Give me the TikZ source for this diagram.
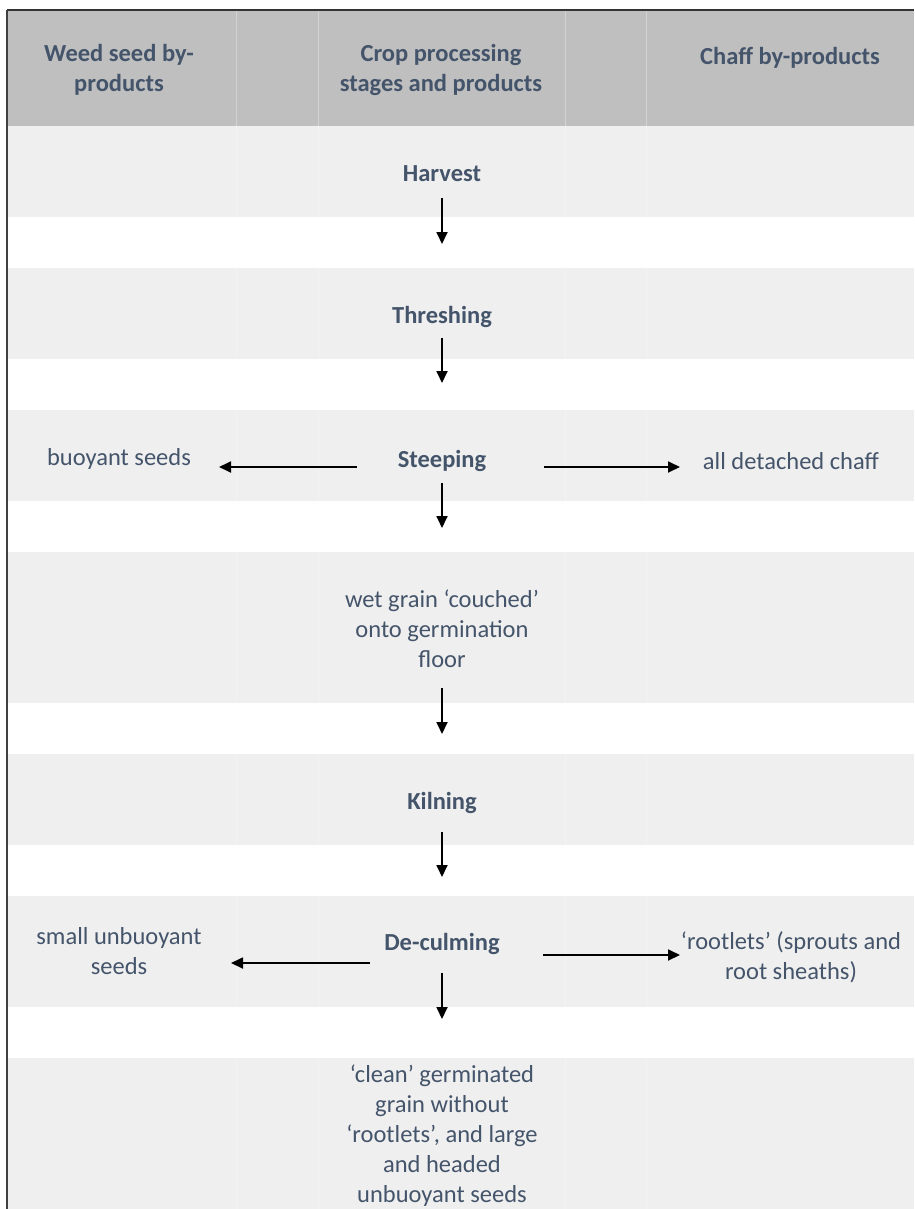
\documentclass[tikz,border=0pt]{standalone}
\usepackage{fontspec}
\setmainfont{Carlito}
\usetikzlibrary{arrows.meta}
\definecolor{textslate}{HTML}{44546A}
\definecolor{headgrey}{HTML}{BFBFBF}
\definecolor{bandgrey}{HTML}{EFEFEF}

\begin{document}
\begin{tikzpicture}[x=1pt,y=-1pt,
  lbl/.style={text=textslate, font=\fontsize{24.5}{30}\selectfont, inner sep=0pt, align=center},
  stage/.style={lbl, font=\fontsize{24.5}{30}\selectfont\bfseries},
  flow/.style={-{Triangle[length=12pt,width=11pt]}, line width=1.8pt}]
\useasboundingbox (0,0) rectangle (914,1209);
% table background
\fill[headgrey] (7,10) rectangle (914,126);
\foreach \top/\bot in {126/217,268/359,410/501,552/703,754/845,896/1007,1058/1209}
  \fill[bandgrey] (7,\top) rectangle (914,\bot);
\foreach \xx in {236,318,565,646}
  \draw[white, opacity=0.3, line width=1pt] (\xx,10) -- (\xx,1209);
\draw[line width=1.5pt, black!80] (7,10) -- (914,10);
\draw[line width=2pt, black!75] (7,10) -- (7,1209);
% headers
\node[stage] (hweed) at (119,70) {Weed seed by-\\products};
\node[stage] (hcrop) at (441,70) {Crop processing\\stages and products};
\node[stage, anchor=base] (hchaff) at (790,65) {Chaff by-products};
% stages
\node[stage, anchor=base] (harvest) at (442,182) {Harvest};
\node[stage, anchor=base] (threshing) at (442,323) {Threshing};
\node[stage, anchor=base] (steeping) at (442,467) {Steeping};
\node[lbl] (wetgrain) at (442,629) {wet grain ‘couched’\\onto germination\\floor};
\node[stage, anchor=base] (kilning) at (442,809) {Kilning};
\node[stage, anchor=base] (deculming) at (442,950) {De-culming};
\node[lbl] (cleangrain) at (442,1136) {‘clean’ germinated\\grain without\\‘rootlets’, and large\\and headed\\unbuoyant seeds};
% by-products
\node[lbl, anchor=base] (buoyant) at (119,465) {buoyant seeds};
\node[lbl, anchor=base] (chaff) at (791,469) {all detached chaff};
\node[lbl] (smallseeds) at (119,951) {small unbuoyant\\seeds};
\node[lbl] (rootlets) at (791,957) {‘rootlets’ (sprouts and\\root sheaths)};
% arrows
\draw[flow, shorten <=16pt, shorten >=79pt] (harvest.base) -- (threshing.base);
\draw[flow, shorten <=15pt, shorten >=84pt] (threshing.base) -- (steeping.base);
\draw[flow, shorten <=16pt, shorten >=101pt] (steeping.base) -- (wetgrain.center);
\draw[flow, shorten <=59pt, shorten >=75pt] (wetgrain.center) -- (kilning.base);
\draw[flow, shorten <=23pt, shorten >=73pt] (kilning.base) -- (deculming.base);
\draw[flow, shorten <=23pt, shorten >=117pt] (deculming.base) -- (cleangrain.center);
\draw[flow, shorten <=85pt, shorten >=100pt] (steeping.base) -- (steeping.base -| buoyant.center);
\draw[flow, shorten <=102pt, shorten >=111pt] (steeping.base) -- (steeping.base -| chaff.center);
\draw[flow, shorten <=72pt, shorten >=112pt] ([yshift=-13pt]deculming.base) -- ([yshift=-13pt]deculming.base -| smallseeds.center);
\draw[flow, shorten <=101pt, shorten >=111pt] ([yshift=-5pt]deculming.base) -- ([yshift=-5pt]deculming.base -| rootlets.center);
\end{tikzpicture}
\end{document}
